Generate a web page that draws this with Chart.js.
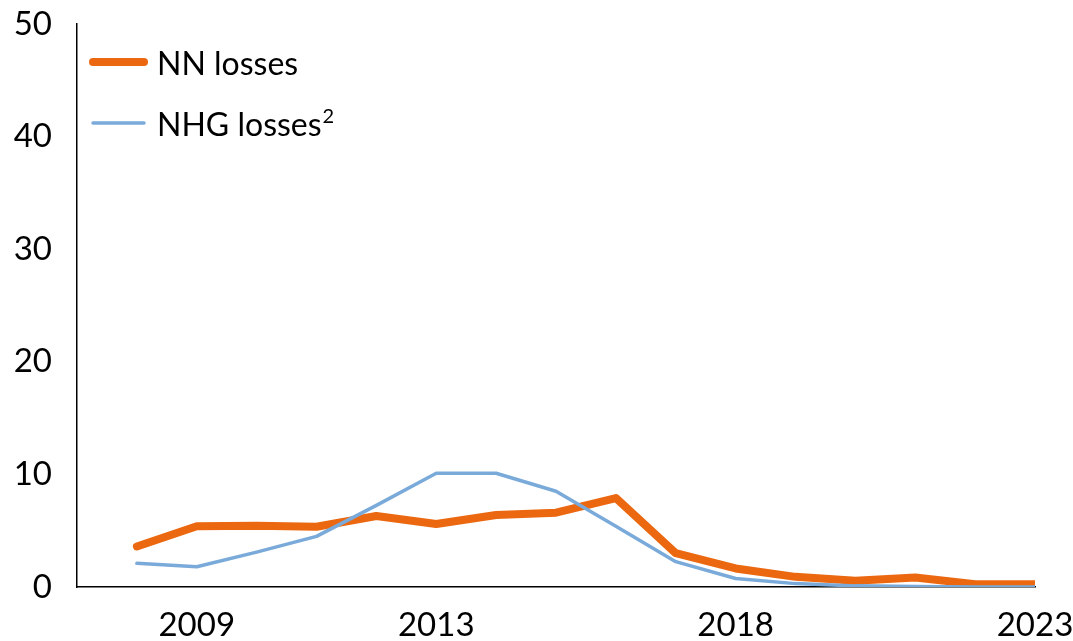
<!DOCTYPE html>
<html>
<head>
<meta charset="utf-8">
<script src="https://cdn.jsdelivr.net/npm/chart.js@4"></script>
<style>
    html, body { margin: 0; padding: 0; background: #fff; }
    #wrap { width: 1073px; height: 641px; }
</style>
</head>
<body>
<div id="wrap"><canvas id="chart-losses"></canvas></div>
<script>
// Losses per year
const years = [2008, 2009, 2010, 2011, 2012, 2013, 2014, 2015, 2016, 2017, 2018, 2019, 2020, 2021, 2022, 2023];
const nnLosses = [3.6, 5.4, 5.45, 5.35, 6.3, 5.6, 6.4, 6.6, 7.9, 3.0, 1.65, 0.9, 0.55, 0.85, 0.25, 0.25];
const nhgLosses = [2.1, 1.8, 3.1, 4.5, 7.25, 10.1, 10.1, 8.5, 5.4, 2.25, 0.75, 0.3, 0.1, 0.05, 0, 0];
const xTickYears = [2009, 2013, 2018, 2023];
const yTicks = [0, 10, 20, 30, 40, 50];
const legendNames = ['NN losses', 'NHG losses'];
const legendNotes = ['', '2'];

const FONT = 'Lato, "Liberation Sans", sans-serif';

function points(values) {
    return values.map((v, i) => ({ x: years[i], y: v }));
}

// legend drawn inside the plot, top left, with a superscript note
const insideLegend = {
    id: 'insideLegend',
    afterDraw(chart) {
        const c = chart.ctx;
        const area = chart.chartArea;
        const x0 = area.left + 16;
        const rows = [area.top + 38, area.top + 99];
        chart.data.datasets.forEach((ds, i) => {
            const y = rows[i];
            c.save();
            c.strokeStyle = ds.borderColor;
            c.lineWidth = ds.borderWidth;
            c.lineCap = 'round';
            c.beginPath();
            c.moveTo(x0, y);
            c.lineTo(x0 + 51, y);
            c.stroke();
            c.fillStyle = '#000';
            c.font = '32px ' + FONT;
            c.textBaseline = 'middle';
            c.textAlign = 'left';
            c.fillText(legendNames[i], x0 + 64, y + 3);
            if (legendNotes[i]) {
                const w = c.measureText(legendNames[i]).width;
                c.font = '20px ' + FONT;
                c.fillText(legendNotes[i], x0 + 65 + w, y - 6);
            }
            c.restore();
        });
    }
};

// keep the plot box fixed; label overflow is covered by layout padding
function noScalePadding(scale) {
    scale.paddingTop = 0;
    scale.paddingBottom = 0;
    scale.paddingLeft = 0;
    scale.paddingRight = 0;
}

const ctx = document.getElementById('chart-losses').getContext('2d');

const chart_data = {
    datasets: [{
        label: 'NN losses',
        data: points(nnLosses),
        borderColor: '#EB6811',
        borderWidth: 8,
        borderCapStyle: 'round',
        borderJoinStyle: 'round',
        pointRadius: 0,
        tension: 0,
        fill: false,
        order: 2
    },
    {
        label: 'NHG losses',
        data: points(nhgLosses),
        borderColor: '#7AAAD9',
        borderWidth: 3.5,
        borderCapStyle: 'round',
        borderJoinStyle: 'round',
        pointRadius: 0,
        tension: 0,
        fill: false,
        order: 1
    }
    ]
};

const chart = new Chart(ctx, {
    type: 'line',
    data: chart_data,
    options: {
        responsive: true,
        maintainAspectRatio: false,
        animation: false,
        layout: {
            padding: { top: 24, right: 38, left: 0, bottom: 0 }
        },
        plugins: {
            legend: { display: false },
            tooltip: { enabled: false }
        },
        scales: {
            x: {
                type: 'linear',
                min: 2007,
                max: 2023,
                afterBuildTicks: (scale) => {
                    scale.ticks = xTickYears.map(v => ({ value: v }));
                },
                afterFit: (scale) => {
                    scale.height = 54;
                    noScalePadding(scale);
                },
                grid: { display: false, drawTicks: false },
                border: { display: true, color: '#000', width: 1.5 },
                ticks: {
                    padding: 19,
                    color: '#000',
                    maxRotation: 0,
                    autoSkip: false,
                    font: { family: FONT, size: 33 },
                    callback: (v) => String(v)
                }
            },
            y: {
                min: 0,
                max: 50,
                afterBuildTicks: (scale) => {
                    scale.ticks = yTicks.map(v => ({ value: v }));
                },
                afterFit: (scale) => {
                    scale.width = 77;
                    noScalePadding(scale);
                },
                grid: { display: false, drawTicks: false },
                border: { display: true, color: '#000', width: 1.5 },
                ticks: {
                    padding: 25,
                    color: '#000',
                    font: { family: FONT, size: 33 }
                }
            }
        }
    },
    plugins: [insideLegend]
});
</script>
</body>
</html>
